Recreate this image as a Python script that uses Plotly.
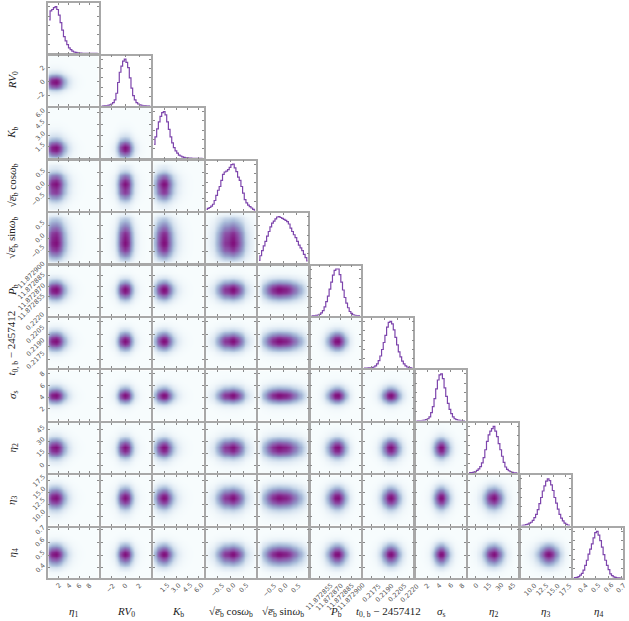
import plotly.graph_objects as go

W, H = 629, 621

# Axis labels
names = ["<i>η</i><sub>1</sub>", "<i>RV</i><sub>0</sub>", "<i>K</i><sub>b</sub>",
         "√<i>e̅</i><sub>b</sub> cos<i>ω</i><sub>b</sub>", "√<i>e̅</i><sub>b</sub> sin<i>ω</i><sub>b</sub>",
         "<i>P</i><sub>b</sub>", "<i>t</i><sub>0, b</sub> − 2457412", "<i>σ</i><sub>s</sub>",
         "<i>η</i><sub>2</sub>", "<i>η</i><sub>3</sub>", "<i>η</i><sub>4</sub>"]

# Axis ranges
ranges = [[0.0, 9.8], [-3.46, 3.7], [0.0, 6.6], [-0.96, 0.96], [-0.96, 0.96],
          [11.872843, 11.872914], [0.2165, 0.2224], [0.0, 8.6],
          [-9.7, 53.3], [8.0, 18.7], [0.318, 0.716]]

# Tick values and labels
tickvals = [[2, 4, 6, 8], [-2, 0, 2], [1.5, 3.0, 4.5, 6.0], [-0.5, 0.0, 0.5], [-0.5, 0.0, 0.5],
            [11.872855, 11.872870, 11.872885, 11.872900], [0.2175, 0.2190, 0.2205, 0.2220],
            [2, 4, 6, 8], [0, 15, 30, 45], [10.0, 12.5, 15.0, 17.5], [0.4, 0.5, 0.6, 0.7]]
ticktext = [["2", "4", "6", "8"], ["−2", "0", "2"], ["1.5", "3.0", "4.5", "6.0"],
            ["−0.5", "0.0", "0.5"], ["−0.5", "0.0", "0.5"],
            ["11.872855", "11.872870", "11.872885", "11.872900"],
            ["0.2175", "0.2190", "0.2205", "0.2220"],
            ["2", "4", "6", "8"], ["0", "15", "30", "45"],
            ["10.0", "12.5", "15.0", "17.5"], ["0.4", "0.5", "0.6", "0.7"]]

# Marginal histograms (30 bins over each axis range)
eta1 = [.72,.91,.94,.98,1.0,.94,.82,.66,.5,.36,.27,.19,.12,.08,.05,.03,.02,.012,.007,.004,.003,.002,.001,.001,.001,0,0,0,0,0]
rv0 = [0,.002,.004,.008,.012,.02,.04,.07,.13,.27,.5,.72,.85,.96,1.0,.93,.82,.6,.38,.22,.13,.07,.04,.02,.01,.006,.003,.001,.001,0]
kb = [.3,.46,.63,.78,.9,.98,1.0,.93,.78,.62,.46,.33,.23,.16,.11,.07,.05,.03,.02,.012,.008,.005,.003,.002,.001,.001,.001,0,0,0]
ecos = [.03,.05,.07,.1,.14,.22,.33,.44,.52,.65,.78,.83,.85,.88,.93,.99,1.0,.92,.84,.72,.65,.52,.38,.24,.17,.12,.09,.06,.03,.01]
esin = [.06,.16,.27,.37,.47,.58,.68,.78,.86,.9,.95,.99,1.0,.98,.96,.94,.92,.89,.84,.75,.68,.61,.55,.47,.39,.33,.27,.19,.12,.05]
pb = [0,0,.002,.005,.015,.03,.06,.11,.19,.3,.42,.57,.72,.87,.97,1.0,1.0,.88,.72,.55,.39,.27,.17,.09,.05,.02,.01,.004,.002,0]
t0 = [0,.001,.002,.004,.008,.014,.025,.05,.09,.16,.26,.4,.55,.7,.88,.98,1.0,.95,.82,.66,.5,.35,.24,.15,.09,.05,.025,.012,.005,.002]
sigma = [0,.001,.002,.003,.005,.01,.02,.04,.08,.17,.3,.47,.68,.87,.98,1.0,.9,.7,.52,.37,.24,.15,.08,.04,.02,.01,.005,.002,.001,0]
eta2 = [0,.01,.01,.02,.03,.06,.09,.14,.22,.33,.5,.68,.82,.9,.95,1.0,.9,.78,.63,.5,.36,.23,.13,.08,.05,.03,.015,.006,.003,.001]
eta3 = [0,.005,.01,.02,.03,.05,.07,.11,.17,.24,.34,.47,.6,.74,.85,.95,1.0,.96,.87,.75,.6,.48,.35,.24,.16,.1,.05,.025,.01,.003]
eta4 = [.003,.007,.015,.03,.06,.1,.17,.27,.38,.51,.62,.73,.86,.97,1.0,.92,.8,.66,.5,.38,.27,.18,.09,.05,.025,.012,.005,.002,0,0]
marginals = [eta1, rv0, kb, ecos, esin, pb, t0, sigma, eta2, eta3, eta4]

N = len(names)
LEFT, TOP, SIZE, STEP = 48.4, 3.2, 50.2, 52.46
BORDER = "#a8a8a8"
TICK = "#8a8a8a"
LINE = "#7d45ac"
TEXT = "#555555"
colorscale = [[0, "#f7fcfd"], [0.01, "#f4fafc"], [0.05, "#eaf2f8"], [0.15, "#d3e0ee"],
              [0.3, "#aabdda"], [0.5, "#8f8cc2"], [0.75, "#8c4ea6"], [1, "#810f7c"]]


def centers(i):
    lo, hi = ranges[i]
    return [lo + (hi - lo) * (k + 0.5) / 30 for k in range(30)]


fig = go.Figure()
layout = {}
annotations = []


def axis_style(rng, vals):
    return dict(range=rng, tickmode="array", tickvals=vals, showticklabels=False, ticks="inside",
                ticklen=2, tickwidth=0.8, tickcolor=TICK, showline=True, linecolor=BORDER,
                linewidth=1.5, mirror="ticks", showgrid=False, zeroline=False)


k = 0
for row in range(N):
    for col in range(row + 1):
        k += 1
        xname = "x" if k == 1 else f"x{k}"
        yname = "y" if k == 1 else f"y{k}"
        xkey = "xaxis" if k == 1 else f"xaxis{k}"
        ykey = "yaxis" if k == 1 else f"yaxis{k}"
        x0 = LEFT + col * STEP
        y0 = TOP + row * STEP
        xa = axis_style(ranges[col], tickvals[col])
        xa.update(domain=[x0 / W, (x0 + SIZE) / W], anchor=yname)
        if row == col:
            ya = axis_style([0, 1.075], [0.2, 0.4, 0.6, 0.8, 1.0])
            ya.update(domain=[1 - (y0 + SIZE) / H, 1 - y0 / H], anchor=xname)
            fig.add_trace(go.Scatter(x=centers(col), y=marginals[col], mode="lines",
                                     line=dict(color=LINE, width=1.2, shape="hvh"),
                                     xaxis=xname, yaxis=yname, showlegend=False, hoverinfo="skip"))
        else:
            ya = axis_style(ranges[row], tickvals[row])
            ya.update(domain=[1 - (y0 + SIZE) / H, 1 - y0 / H], anchor=xname)
            z = [[round(my * mx, 5) for mx in marginals[col]] for my in marginals[row]]
            fig.add_trace(go.Heatmap(x=centers(col), y=centers(row), z=z, zmin=0, zmax=1,
                                     colorscale=colorscale, showscale=False, zsmooth="best",
                                     xaxis=xname, yaxis=yname, hoverinfo="skip"))
        layout[xkey] = xa
        layout[ykey] = ya
        # Bottom-row tick labels and axis titles
        if row == N - 1:
            for v, t in zip(tickvals[col], ticktext[col]):
                annotations.append(dict(x=v, xref=xname, y=1 - (y0 + SIZE + 1) / H, yref="paper",
                                        text=t, textangle=-45, showarrow=False, xanchor="center",
                                        yanchor="top", font=dict(family="DejaVu Sans", size=6.5, color=TEXT)))
            annotations.append(dict(x=(x0 + SIZE / 2) / W, xref="paper", y=1 - 612 / H, yref="paper",
                                    text=names[col], showarrow=False, xanchor="center", yanchor="middle",
                                    font=dict(family="Liberation Serif", size=11, color="#222222")))
        # Left-column tick labels and axis titles
        if col == 0 and row > 0:
            for v, t in zip(tickvals[row], ticktext[row]):
                annotations.append(dict(x=49.5 / W, xref="paper", y=v, yref=yname,
                                        text=t, textangle=-45, showarrow=False, xanchor="right",
                                        yanchor="middle", font=dict(family="DejaVu Sans", size=6.5, color=TEXT)))
            annotations.append(dict(x=12.5 / W, xref="paper", y=1 - (y0 + SIZE / 2) / H, yref="paper",
                                    text=names[row], textangle=-90, showarrow=False, xanchor="center",
                                    yanchor="middle", font=dict(family="Liberation Serif", size=11, color="#222222")))

fig.update_layout(width=W, height=H, margin=dict(l=0, r=0, t=0, b=0), paper_bgcolor="white",
                  plot_bgcolor="white", annotations=annotations, **layout)
fig.write_html("out.html", config={"displayModeBar": False},
               post_script="document.body.style.margin='0';")
